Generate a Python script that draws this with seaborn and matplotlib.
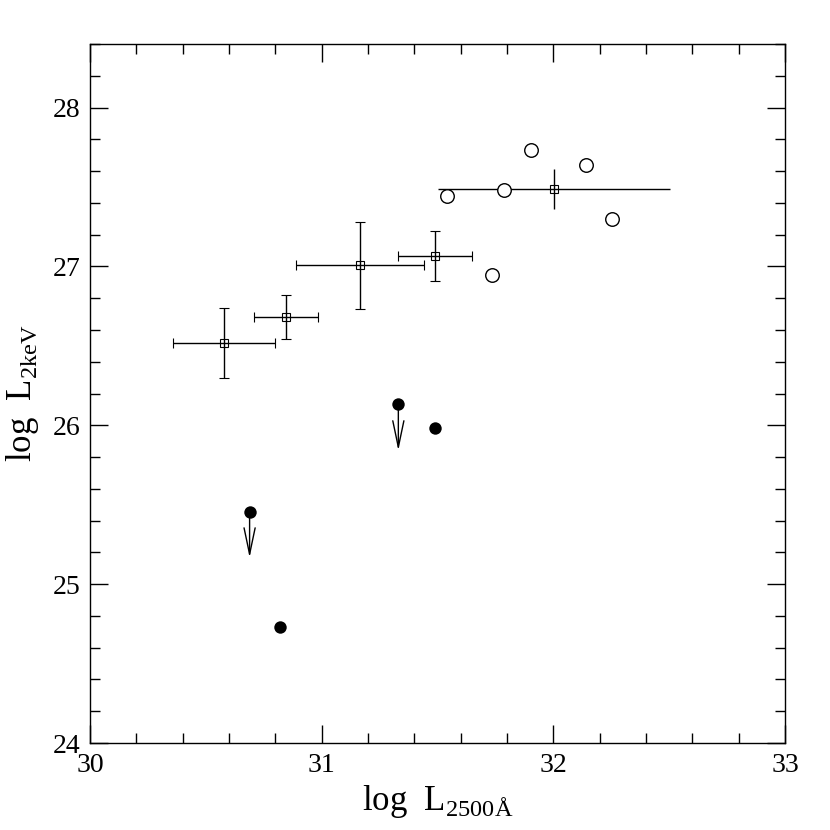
import matplotlib.pyplot as plt
import seaborn as sns
import pandas as pd
from matplotlib.ticker import MultipleLocator

# binned averages (open squares with error bars)
bin_x = [30.58, 30.846, 31.165, 31.489, 32.003]
bin_y = [26.518, 26.683, 27.007, 27.063, 27.488]
bin_xerr = [0.22, 0.137, 0.275, 0.16, 0.50]
bin_yerr = [0.218, 0.139, 0.272, 0.157, 0.126]
bin_caps = [True, True, True, True, False]

# open circles
open_x = [31.539, 31.788, 31.903, 32.141, 32.253, 31.735]
open_y = [27.441, 27.483, 27.735, 27.639, 27.301, 26.944]

# filled circles (some are upper limits)
filled_x = [30.689, 30.820, 31.331, 31.488]
filled_y = [25.457, 24.733, 26.131, 25.982]
upper_limit = [True, False, True, False]

df_open = pd.DataFrame({'x': open_x, 'y': open_y})
df_filled = pd.DataFrame({'x': filled_x, 'y': filled_y, 'lim': upper_limit})

sns.set_style('ticks')
plt.rcParams['font.family'] = ['Liberation Serif', 'DejaVu Serif']
plt.rcParams['mathtext.fontset'] = 'custom'
plt.rcParams['mathtext.rm'] = 'Liberation Serif'
for k in ['text.color', 'axes.labelcolor', 'xtick.color', 'ytick.color']:
    plt.rcParams[k] = 'black'

fig = plt.figure(figsize=(8.3, 8.3), dpi=100)
ax = fig.add_axes([0.1084, 0.1048, 0.8374, 0.8422])

# error bars
for x, y, xe, ye, cap in zip(bin_x, bin_y, bin_xerr, bin_yerr, bin_caps):
    ax.errorbar(x, y, xerr=xe, yerr=ye, fmt='s', mfc='none', mec='black',
                ms=5.5, mew=0.8, ecolor='black', elinewidth=1,
                capsize=3.5 if cap else 0, capthick=1, zorder=2)

sns.scatterplot(data=df_open, x='x', y='y', marker='o', s=95,
                facecolor='white', edgecolor='black', linewidth=1, ax=ax, zorder=3)
sns.scatterplot(data=df_filled, x='x', y='y', marker='o', s=80,
                color='black', edgecolor='black', linewidth=0, ax=ax, zorder=3)

# upper limit arrows
for x, y in df_filled[df_filled['lim']][['x', 'y']].values:
    ax.annotate('', xy=(x, y - 0.29), xytext=(x, y),
                arrowprops=dict(arrowstyle='->,head_length=1.9,head_width=0.4',
                                mutation_scale=10, lw=1, color='black',
                                shrinkA=0, shrinkB=0))

ax.set_xlim(30, 33)
ax.set_ylim(24, 28.4)
ax.xaxis.set_major_locator(MultipleLocator(1))
ax.xaxis.set_minor_locator(MultipleLocator(0.2))
ax.yaxis.set_major_locator(MultipleLocator(1))
ax.yaxis.set_minor_locator(MultipleLocator(0.2))
ax.tick_params(which='both', direction='in', top=True, right=True,
               width=1, color='black', labelsize=20)
ax.tick_params(which='major', length=13, pad=7)
ax.tick_params(which='minor', length=7)
for s in ax.spines.values():
    s.set_linewidth(1)
    s.set_color('black')

ax.set_xlabel(r'log  L$_{\mathrm{2500Å}}$', fontsize=25, labelpad=4)
ax.set_ylabel(r'log  L$_{\mathrm{2keV}}$', fontsize=25, labelpad=8)

plt.savefig('out.png', dpi=100)
